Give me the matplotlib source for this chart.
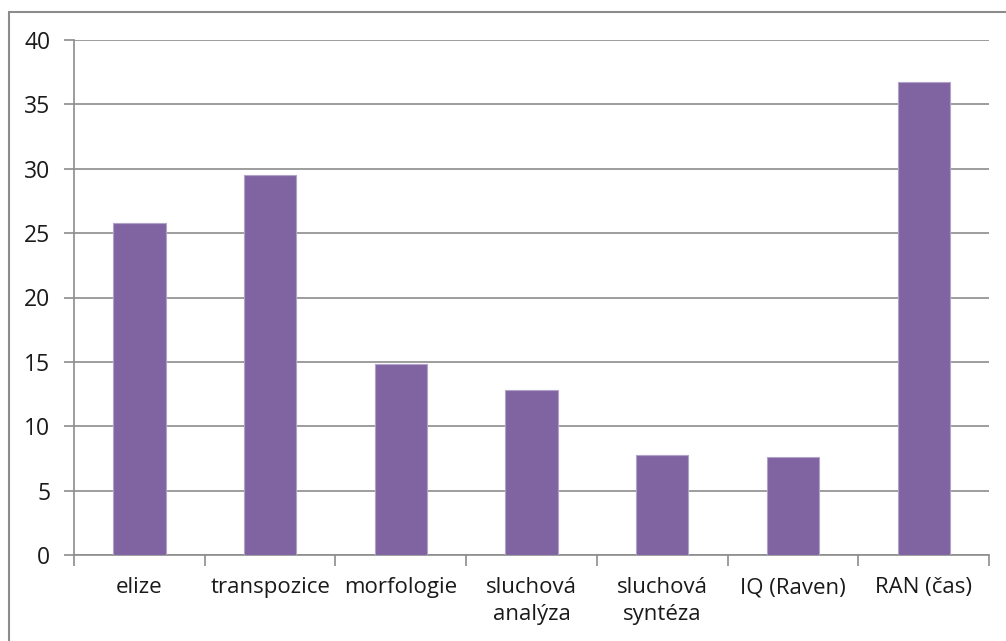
import matplotlib.pyplot as plt
from matplotlib.patches import Rectangle

categories = ["elize", "transpozice", "morfologie", "sluchová\nanalýza",
              "sluchová\nsyntéza", "IQ (Raven)", "RAN (čas)"]
values = [25.8, 29.5, 14.8, 12.8, 7.75, 7.6, 36.7]
yticks = [0, 5, 10, 15, 20, 25, 30, 35, 40]

W, H = 1006, 641
fig = plt.figure(figsize=(W / 100, H / 100), dpi=100)
plt.rcParams['font.family'] = ['Open Sans', 'DejaVu Sans']

# outer chart frame
fig.patches.append(Rectangle((9 / W, -0.1), 1.2, 1 - 12 / H + 0.1,
                             transform=fig.transFigure, fill=False,
                             edgecolor='#8c8c8c', linewidth=1.5))

ax = fig.add_axes([74 / W, 1 - 555 / H, (989 - 74) / W, (555 - 40) / H])
x = range(len(categories))
ax.bar(x, values, width=0.4, color='#8064A2', edgecolor='#b3a2c7',
       linewidth=0.8, zorder=3)

ax.set_xlim(-0.5, len(categories) - 0.5)
ax.set_ylim(0, 40)
ax.set_yticks(yticks)
ax.set_yticklabels([str(t) for t in yticks], fontsize=16.5, color='#1a1a1a')
ax.yaxis.grid(True, color='#8c8c8c', linewidth=1.2, zorder=0)
ax.tick_params(axis='y', length=7, color='#8c8c8c', width=1.2, pad=10)

ax.set_xticks([i + 0.5 for i in range(-1, len(categories))], minor=False)
ax.set_xticklabels([])
ax.tick_params(axis='x', length=8, color='#8c8c8c', width=1.2)
ax.set_xticks(list(x), minor=True)
ax.set_xticklabels(categories, minor=True, fontsize=16, color='#1a1a1a',
                   linespacing=1.35)
ax.tick_params(axis='x', which='minor', length=0, pad=16)

for s in ['top', 'right']:
    ax.spines[s].set_visible(False)
for s in ['left', 'bottom']:
    ax.spines[s].set_color('#8c8c8c')
    ax.spines[s].set_linewidth(1.2)

fig.savefig('out.png', dpi=100)
